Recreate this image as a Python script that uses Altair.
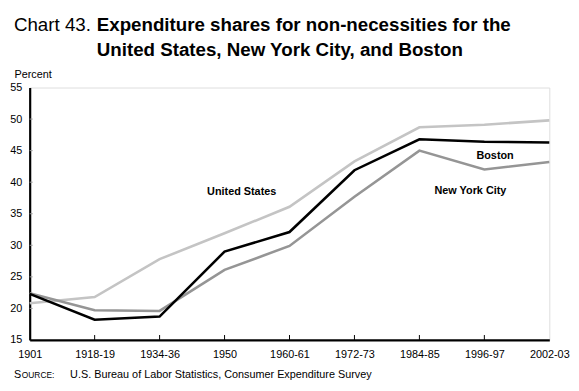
import altair as alt
import pandas as pd

periods = ["1901", "1918-19", "1934-36", "1950", "1960-61", "1972-73", "1984-85", "1996-97", "2002-03"]
us = [20.8, 21.8, 27.8, 31.9, 36.1, 43.3, 48.7, 49.1, 49.8]
boston = [22.3, 18.2, 18.7, 29.0, 32.1, 41.9, 46.8, 46.4, 46.3]
nyc = [22.4, 19.7, 19.6, 26.1, 29.9, 37.7, 45.0, 42.0, 43.2]
y_ticks = [15, 20, 25, 30, 35, 40, 45, 50, 55]
series_names = ["United States", "New York City", "Boston"]
series_colors = ["#c4c4c4", "#959595", "#000000"]

rows = []
for name, vals in zip(series_names, [us, nyc, boston]):
    for p, v in zip(periods, vals):
        rows.append({"period": p, "value": v, "series": name})
df = pd.DataFrame(rows)

FONT = "Liberation Sans"
W, H = 527, 256

xscale = alt.Scale(type="point", padding=0)
yscale = alt.Scale(domain=[15, 55], nice=False, zero=False)
xaxis = alt.Axis(title=None, labelAngle=0, labelFont=FONT, labelFontSize=11,
                 labelColor="#000", domainColor="#000", domainWidth=2.2,
                 ticks=False, labelPadding=9, labelOverlap=False)
yaxis = alt.Axis(values=y_ticks, title="Percent", titleAngle=0,
                 titleAlign="left", titleBaseline="bottom", titleX=-16, titleY=-8,
                 titleFont=FONT, titleFontSize=11, titleFontWeight="normal",
                 titleColor="#000", labelFont=FONT, labelFontSize=11,
                 labelColor="#000", domainColor="#000", domainWidth=2.2,
                 ticks=False, labelPadding=8, grid=False, labelOverlap=False)

base = alt.Chart(df)
lines = base.mark_line(strokeWidth=2.6, strokeJoin="miter").encode(
    x=alt.X("period:O", sort=periods, scale=xscale, axis=xaxis),
    y=alt.Y("value:Q", scale=yscale, axis=yaxis),
    color=alt.Color("series:N", scale=alt.Scale(domain=series_names, range=series_colors),
                    legend=None),
    order=alt.Order("series:N"),
)

xticks = alt.Chart(pd.DataFrame({"period": periods[1:-1]})).mark_rule(
    color="#000", strokeWidth=1).encode(
    x=alt.X("period:O", sort=periods, scale=xscale, axis=xaxis),
    y=alt.value(H - 5), y2=alt.value(H))

yticks = alt.Chart(pd.DataFrame({"value": y_ticks[1:-1]})).mark_rule(
    color="#999", strokeWidth=1).encode(
    y=alt.Y("value:Q", scale=yscale, axis=yaxis), x=alt.value(0), x2=alt.value(3))

dummy = pd.DataFrame({"a": [0]})

def txt(text, x, y, size=11, weight="normal", align="left"):
    return alt.Chart(dummy).mark_text(text=text, font=FONT, fontSize=size, fontWeight=weight,
                                      align=align, baseline="alphabetic", color="#000").encode(
        x=alt.value(x), y=alt.value(y))

SY = H + 39
labels = [
    txt("United States", 215, 109, 11, "bold", "center"),
    txt("Boston", 472, 72, 11, "bold", "center"),
    txt("New York City", 447, 108, 11, "bold", "center"),
    txt("Chart 43.", -16, -57, 19),
    txt("Expenditure shares for non-necessities for the", 68, -57, 19, "bold"),
    txt("United States, New York City, and Boston", 68, -32, 19, "bold"),
    txt("S", -16, SY, 11),
    txt("OURCE:", -8, SY, 8.5),
    txt("U.S. Bureau of Labor Statistics, Consumer Expenditure Survey", 41, SY, 11),
]

chart = alt.layer(lines, xticks, yticks, *labels).properties(
    width=W, height=H,
    autosize=alt.AutoSizeParams(type="none"),
    padding={"left": 22, "top": 78, "right": 22, "bottom": 41},
).configure_view(stroke="#444", strokeWidth=1).configure(background="white")

chart.save("out.html", embed_options={"renderer": "svg", "actions": False})
